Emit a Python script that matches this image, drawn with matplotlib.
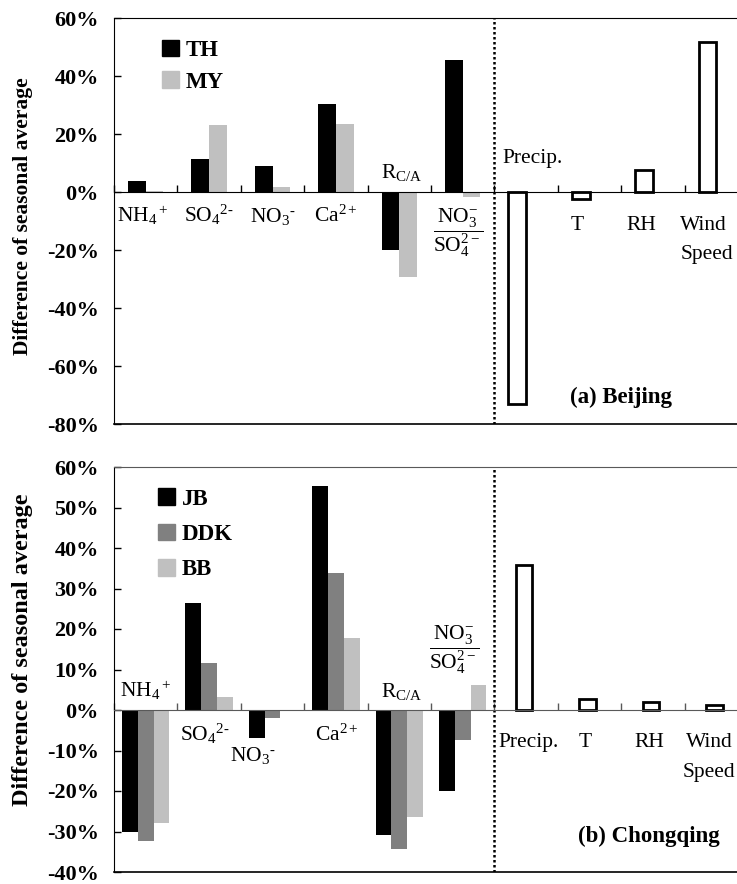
import numpy as np
import matplotlib
matplotlib.use('Agg')
import matplotlib.pyplot as plt
from matplotlib.ticker import PercentFormatter
from matplotlib.patches import Patch

plt.rcParams['font.family'] = 'Liberation Serif'
plt.rcParams['mathtext.fontset'] = 'custom'
plt.rcParams['mathtext.rm'] = 'Liberation Serif'
plt.rcParams['mathtext.it'] = 'Liberation Serif:italic'
plt.rcParams['mathtext.bf'] = 'Liberation Serif:bold'
plt.rcParams['axes.unicode_minus'] = False

# Datos (diferencia de promedio estacional, %)
iones = [r'$\mathrm{NH_4{}^+}$', r'$\mathrm{SO_4{}^{2\text{-}}}$', r'$\mathrm{NO_3{}^{\text{-}}}$',
         r'$\mathrm{Ca^{2+}}$', r'$\mathrm{R_{C/A}}$',
         r'$\dfrac{\mathrm{NO_3^{-}}}{\mathrm{SO_4^{2-}}}$']
meteo = ['Precip.', 'T', 'RH', 'Wind']

bj_th = [3.8, 11.4, 9.1, 30.3, -20.0, 45.5]
bj_my = [0.3, 23.1, 1.7, 23.4, -29.2, -1.6]
bj_met = [-73.1, -2.5, 7.6, 51.8]

cq_jb = [-30.0, 26.4, -7.0, 55.2, -30.8, -19.9]
cq_ddk = [-32.3, 11.6, -1.9, 33.8, -34.3, -7.3]
cq_bb = [-28.0, 3.1, 0.0, 17.9, -26.3, 6.2]
cq_met = [35.8, 2.7, 1.9, 1.2]

NEGRO, GRIS, GRIS_CLARO = '#000000', '#808080', '#c0c0c0'
FS = 15.5      # etiquetas de categoria
FS_TICK = 16
FS_LEG = 16.5

fig = plt.figure(figsize=(7.37, 8.84), dpi=100)
W, H = 737.0, 884.0


def preparar_ejes(ax, ylim, paso, color_h):
    ax.set_xlim(-0.5, 9.5)
    ax.set_ylim(*ylim)
    ax.set_yticks(np.arange(ylim[0], ylim[1] + 0.1, paso))
    ax.yaxis.set_major_formatter(PercentFormatter(decimals=0))
    ax.tick_params(axis='y', direction='in', length=5, width=1, pad=11, labelsize=FS_TICK)
    for t in ax.get_yticklabels():
        t.set_fontweight('bold')
    # eje de categorias en el cero, marcas entre categorias
    ax.spines['bottom'].set_position(('data', 0))
    ax.spines['bottom'].set_color(color_h)
    ax.spines['top'].set_color(color_h)
    ax.spines['right'].set_visible(False)
    ax.set_xticks(np.arange(-0.5, 10, 1))
    ax.set_xticklabels([])
    ax.tick_params(axis='x', direction='in', length=5, width=1, color=color_h)
    ax.axhline(ylim[0], color='black', lw=1.2, clip_on=False)
    ax.axvline(5.5, color='black', ls=(0, (1, 1)), lw=1.8)


def leyenda(ax, handles, anchor, spacing):
    ax.legend(handles=handles, loc='upper left', bbox_to_anchor=anchor, frameon=False,
              borderpad=0, borderaxespad=0, handlelength=0.75, handleheight=0.75,
              handletextpad=0.3, labelspacing=spacing,
              prop={'family': 'Liberation Serif', 'weight': 'bold', 'size': FS_LEG})


# ---------------- (a) Beijing ----------------
ax1 = fig.add_axes([114 / W, 1 - 424 / H, 634 / W, (424 - 18) / H])
preparar_ejes(ax1, (-80, 60), 20, 'black')
x = np.arange(6)
w = 0.28
ax1.bar(x - w / 2, bj_th, w, color=NEGRO)
ax1.bar(x + w / 2, bj_my, w, color=GRIS_CLARO)
xm = np.arange(6, 10)
ax1.bar(xm - w / 2, bj_met, w, color='white', edgecolor='black', lw=2)

yb = -10.2
for xi, lab in zip([-0.05, 1, 2, 3], iones[:4]):
    ax1.text(xi, yb, lab, ha='center', va='baseline', fontsize=FS)
ax1.text(4.04, 4.8, iones[4], ha='center', va='baseline', fontsize=FS)
ax1.text(4.93, -14.1, iones[5], ha='center', va='center', fontsize=FS)
ax1.text(5.62, 10, meteo[0], ha='left', va='baseline', fontsize=FS)
ax1.text(6.80, -13.1, meteo[1], ha='center', va='baseline', fontsize=FS)
ax1.text(7.81, -13.1, meteo[2], ha='center', va='baseline', fontsize=FS)
ax1.text(8.43, -13.1, meteo[3], ha='left', va='baseline', fontsize=FS)
ax1.text(8.43, -23.1, 'Speed', ha='left', va='baseline', fontsize=FS)
ax1.text(6.69, -72.8, '(a) Beijing', ha='left', va='baseline', fontsize=FS_LEG, fontweight='bold')

leyenda(ax1, [Patch(color=NEGRO, label='TH'), Patch(color=GRIS_CLARO, label='MY')],
        (0.075, 0.947), 0.45)

# ---------------- (b) Chongqing ----------------
ax2 = fig.add_axes([114 / W, 1 - 872 / H, 634 / W, (872 - 467) / H])
preparar_ejes(ax2, (-40, 60), 10, '#595959')
w = 0.25
ax2.bar(x - w, cq_jb, w, color=NEGRO)
ax2.bar(x, cq_ddk, w, color=GRIS)
ax2.bar(x + w, cq_bb, w, color=GRIS_CLARO)
ax2.bar(xm - 0.03, cq_met, 0.26, color='white', edgecolor='black', lw=2)

ax2.text(-0.4, 3.1, iones[0], ha='left', va='baseline', fontsize=FS)
ax2.text(0.94, -7.6, iones[1], ha='center', va='baseline', fontsize=FS)
ax2.text(1.69, -12.5, iones[2], ha='center', va='baseline', fontsize=FS)
ax2.text(3.02, -7.6, iones[3], ha='center', va='baseline', fontsize=FS)
ax2.text(4.04, 3.1, iones[4], ha='center', va='baseline', fontsize=FS)
ax2.text(4.86, 14.8, iones[5], ha='center', va='center', fontsize=FS)
ax2.text(5.56, -9.2, meteo[0], ha='left', va='baseline', fontsize=FS)
ax2.text(6.93, -9.2, meteo[1], ha='center', va='baseline', fontsize=FS)
ax2.text(7.94, -9.2, meteo[2], ha='center', va='baseline', fontsize=FS)
ax2.text(8.52, -9.2, meteo[3], ha='left', va='baseline', fontsize=FS)
ax2.text(8.47, -16.5, 'Speed', ha='left', va='baseline', fontsize=FS)
ax2.text(6.82, -32.6, '(b) Chongqing', ha='left', va='baseline', fontsize=FS_LEG, fontweight='bold')

leyenda(ax2, [Patch(color=NEGRO, label='JB'), Patch(color=GRIS, label='DDK'),
              Patch(color=GRIS_CLARO, label='BB')],
        (0.069, 0.947), 0.6)

# titulos del eje y
fig.text(23 / W, 1 - 216 / H, 'Difference of seasonal average', rotation=90,
         ha='center', va='center', fontsize=15.5, fontweight='bold')
fig.text(23 / W, 1 - 650 / H, 'Difference of seasonal average', rotation=90,
         ha='center', va='center', fontsize=17.5, fontweight='bold')

fig.savefig('out.png', dpi=100)
